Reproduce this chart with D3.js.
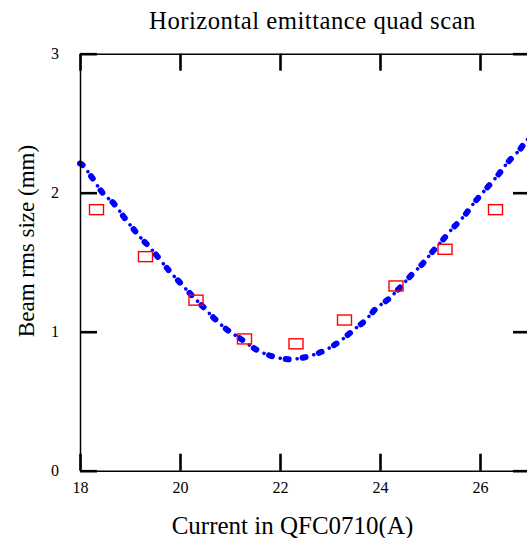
<!DOCTYPE html>
<html>
<head>
<meta charset="utf-8">
<script src="https://cdn.jsdelivr.net/npm/d3@7"></script>
<style>
  body { margin: 0; background: #fff; }
  text { font-family: "Liberation Serif", "Times New Roman", serif; fill: #000; }
</style>
</head>
<body>
<svg width="527" height="538" id="mainsvg"></svg>
<script>
// measured squares
const measX = [18.33, 19.31, 20.32, 21.29, 22.32, 23.29, 24.32, 25.30, 26.31];
const measY = [1.878, 1.540, 1.227, 0.948, 0.913, 1.084, 1.329, 1.593, 1.878];

// fitted curve
const fitX = [18.0, 18.05, 18.23, 18.45, 18.68, 18.9, 19.11, 19.23, 19.43, 19.77, 20.0, 20.23, 20.47, 20.7,
  20.95, 21.2, 21.52, 21.83, 22.21, 22.6, 22.91, 23.21, 23.47, 23.7, 23.93, 24.19, 24.32, 24.45, 24.55,
  24.68, 24.83, 24.93, 25.05, 25.2, 25.41, 25.67, 25.9, 26.12, 26.35, 26.55, 26.8, 26.91, 27.0];
const fitY = [2.21, 2.20, 2.115, 2.00, 1.92, 1.815, 1.72, 1.67, 1.593, 1.444, 1.353, 1.264, 1.176, 1.091,
  1.012, 0.952, 0.873, 0.825, 0.801, 0.826, 0.868, 0.935, 1.012, 1.079, 1.17, 1.24, 1.288, 1.336, 1.377,
  1.427, 1.48, 1.523, 1.576, 1.636, 1.727, 1.827, 1.935, 2.027, 2.122, 2.216, 2.312, 2.367, 2.40];

const xTicks = [18, 20, 22, 24, 26];
const yTicks = [0, 1, 2, 3];

const svg = d3.select('svg');
const x = d3.scaleLinear().domain([18, 27]).range([80, 530]);
const y = d3.scaleLinear().domain([0, 3]).range([470.7, 53.7]);

const plot = svg.append('g');

// curve: big dashes + small dots
const line = d3.line().x(d => x(d[0])).y(d => y(d[1])).curve(d3.curveCatmullRom);
const pts = fitX.map((v, i) => [v, fitY[i]]);
plot.append('path').attr('d', line(pts)).attr('fill', 'none')
  .attr('stroke', '#0000ff').attr('stroke-width', 6).attr('stroke-linecap', 'round')
  .attr('stroke-dasharray', '3,14');
plot.append('path').attr('d', line(pts)).attr('fill', 'none')
  .attr('stroke', '#0000ff').attr('stroke-width', 3.5).attr('stroke-linecap', 'round')
  .attr('stroke-dasharray', '0.1,16.9').attr('stroke-dashoffset', -11.5);

// squares
plot.selectAll('rect.m').data(measX).join('rect').attr('class', 'm')
  .attr('x', d => x(d) - 7).attr('y', (d, i) => y(measY[i]) - 5)
  .attr('width', 14).attr('height', 10)
  .attr('fill', 'none').attr('stroke', '#ff0000').attr('stroke-width', 1.4);

// axes, ticks pointing inward
function style(g) {
  g.select('.domain').attr('stroke-width', 1.5);
  g.selectAll('.tick line').attr('stroke-width', 2.6);
  g.selectAll('.tick text').attr('font-family', '"Liberation Serif", serif').attr('font-size', 16);
}
svg.append('g').attr('transform', `translate(0,${y(0)})`)
  .call(d3.axisBottom(x).tickValues(xTicks).tickSize(-17).tickSizeOuter(0).tickPadding(11).tickFormat(d3.format('d')))
  .call(style);
svg.append('g').attr('transform', `translate(0,${y(3)})`)
  .call(d3.axisTop(x).tickValues(xTicks).tickSize(-17).tickSizeOuter(0).tickFormat(''))
  .call(style);
svg.append('g').attr('transform', `translate(${x(18)},0)`)
  .call(d3.axisLeft(y).tickValues(yTicks).tickSize(-17).tickSizeOuter(0).tickPadding(21).tickFormat(d3.format('d')))
  .call(style);
svg.append('g').attr('transform', `translate(${x(27)},0)`)
  .call(d3.axisRight(y).tickValues(yTicks).tickSize(-17).tickSizeOuter(0).tickFormat(''))
  .call(style);

// titles
svg.append('text').attr('x', 312.5).attr('y', 29).attr('text-anchor', 'middle')
  .attr('font-size', 24.7).attr('letter-spacing', 0.5).text('Horizontal emittance quad scan');
svg.append('text').attr('x', 292.5).attr('y', 534).attr('text-anchor', 'middle')
  .attr('font-size', 25).text('Current in QFC0710(A)');
svg.append('text').attr('transform', 'translate(34,241) rotate(-90)').attr('text-anchor', 'middle')
  .attr('font-size', 23).text('Beam rms size (mm)');
</script>
</body>
</html>
